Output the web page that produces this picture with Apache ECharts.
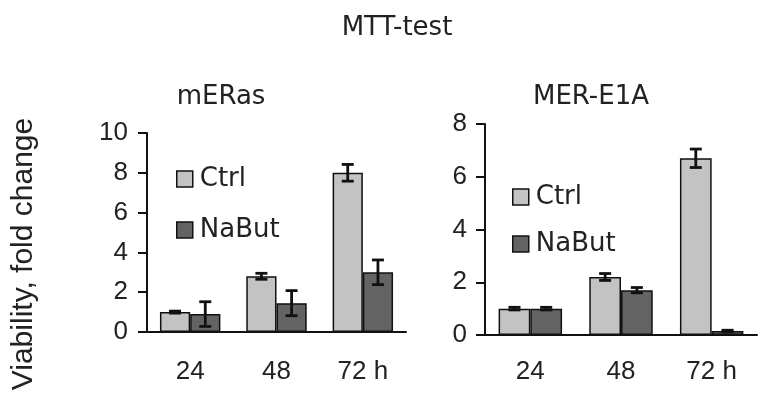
<!DOCTYPE html>
<html>
<head>
<meta charset="utf-8">
<script src="https://cdn.jsdelivr.net/npm/echarts@6/dist/echarts.min.js"></script>
<style>html,body{margin:0;padding:0;background:#fff}#c{width:769px;height:403px}</style>
</head>
<body>
<div id="c"></div>
<script>
const categories = ['24', '48', '72 h'];
const leftTicks = [0, 2, 4, 6, 8, 10];
const rightTicks = [0, 2, 4, 6, 8];
const mErasCtrl = [1.0, 2.8, 8.0];
const mErasCtrlErr = [0.05, 0.15, 0.42];
const mErasNaBut = [0.9, 1.45, 3.0];
const mErasNaButErr = [0.62, 0.63, 0.62];
const merCtrl = [1.0, 2.2, 6.7];
const merCtrlErr = [0.05, 0.13, 0.35];
const merNaBut = [1.0, 1.7, 0.15];
const merNaButErr = [0.05, 0.1, 0.03];

const FONT = 'DejaVu Sans';
const NUMFONT = 'Liberation Sans';
const GAP = 0.3;
const ctrlColor = '#c3c3c3';
const nabutColor = '#636363';
const TXT = '#222';

function errRender(side) {
  return function (params, api) {
    const i = api.value(0), v = api.value(1), e = api.value(2);
    const band = api.size([1, 0])[0];
    const bw = band * (1 - GAP) / 2;
    const off = side * bw / 2;
    const t = api.coord([i, v + e]);
    const b = api.coord([i, v - e]);
    const x = t[0] + off;
    const cap = 6;
    const st = { stroke: '#111', lineWidth: 2.8 };
    return {
      type: 'group',
      children: [
        { type: 'line', shape: { x1: x, y1: t[1], x2: x, y2: b[1] }, style: st },
        { type: 'line', shape: { x1: x - cap, y1: t[1], x2: x + cap, y2: t[1] }, style: st },
        { type: 'line', shape: { x1: x - cap, y1: b[1], x2: x + cap, y2: b[1] }, style: st }
      ]
    };
  };
}
function errData(vals, errs) { return vals.map((v, i) => [i, v, errs[i]]); }

function xAxisCfg(idx, margin) {
  return {
    type: 'category', gridIndex: idx, data: categories,
    axisLine: { lineStyle: { color: '#111', width: 2 } },
    axisTick: { show: false },
    axisLabel: { fontFamily: NUMFONT, fontSize: 26, color: TXT, margin: margin }
  };
}
function yAxisCfg(idx, ticks, margin) {
  return {
    type: 'value', gridIndex: idx, min: ticks[0], max: ticks[ticks.length - 1], interval: ticks[1] - ticks[0],
    axisLine: { show: true, lineStyle: { color: '#111', width: 2 } },
    axisTick: { show: true, length: 9, lineStyle: { color: '#111', width: 2 } },
    splitLine: { show: false },
    axisLabel: { fontFamily: NUMFONT, fontSize: 26, color: TXT, margin: margin }
  };
}
function barSeries(name, idx, data, color) {
  return {
    type: 'bar', name: name, xAxisIndex: idx, yAxisIndex: idx, data: data,
    barGap: '0%', barCategoryGap: (GAP * 100) + '%',
    itemStyle: { color: color, borderColor: '#111', borderWidth: 1.5 }
  };
}
function errSeries(name, idx, vals, errs, side) {
  return {
    type: 'custom', name: name + ' err', xAxisIndex: idx, yAxisIndex: idx,
    renderItem: errRender(side), data: errData(vals, errs),
    encode: { x: 0, y: 1 }, z: 5, silent: true
  };
}
function legendCfg(left, top, gap) {
  return {
    data: ['Ctrl', 'NaBut'], orient: 'vertical', left: left, top: top, itemGap: gap, padding: 0,
    itemWidth: 16, itemHeight: 16, icon: 'rect',
    itemStyle: { borderColor: '#111', borderWidth: 1.5 },
    textStyle: { fontFamily: FONT, fontSize: 26, color: TXT, padding: [0, 0, 0, 2] }
  };
}
function label(text, x, y, size, font, rot) {
  return { type: 'text', x: x, y: y, rotation: rot || 0,
    style: { text: text, fontFamily: font, fontSize: size, fill: TXT, align: 'center', verticalAlign: 'middle' } };
}

const chart = echarts.init(document.getElementById('c'), null, { renderer: 'canvas' });
chart.setOption({
  animation: false,
  backgroundColor: '#fff',
  graphic: [
    label('MTT-test', 397, 28, 26, FONT),
    label('mERas', 221, 97, 26, FONT),
    label('MER-E1A', 591, 97, 26, FONT),
    label('Viability, fold change', 24, 254, 30, NUMFONT, Math.PI / 2)
  ],
  legend: [legendCfg(176, 166, 25), legendCfg(512, 184, 21)],
  grid: [
    { left: 147, right: 363, top: 133, bottom: 71 },
    { left: 485, right: 12, top: 124, bottom: 68 }
  ],
  xAxis: [xAxisCfg(0, 27), xAxisCfg(1, 24)],
  yAxis: [yAxisCfg(0, leftTicks, 19), yAxisCfg(1, rightTicks, 18)],
  series: [
    barSeries('Ctrl', 0, mErasCtrl, ctrlColor),
    barSeries('NaBut', 0, mErasNaBut, nabutColor),
    barSeries('Ctrl', 1, merCtrl, ctrlColor),
    barSeries('NaBut', 1, merNaBut, nabutColor),
    errSeries('Ctrl', 0, mErasCtrl, mErasCtrlErr, -1),
    errSeries('NaBut', 0, mErasNaBut, mErasNaButErr, 1),
    errSeries('Ctrl', 1, merCtrl, merCtrlErr, -1),
    errSeries('NaBut', 1, merNaBut, merNaButErr, 1)
  ]
});
</script>
</body>
</html>
